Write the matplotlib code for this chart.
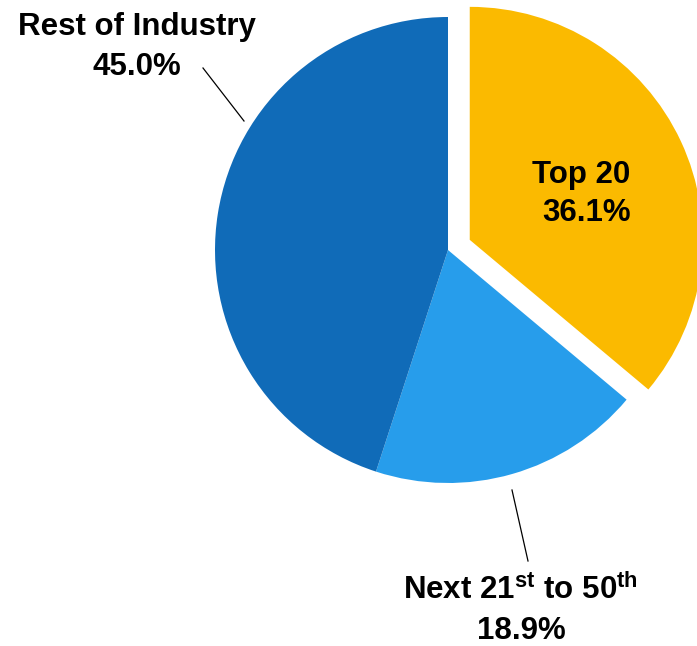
import matplotlib
matplotlib.use("Agg")
import matplotlib.pyplot as plt

plt.rcParams['font.family'] = ['Liberation Sans', 'DejaVu Sans']
plt.rcParams['mathtext.fontset'] = 'custom'
plt.rcParams['mathtext.rm'] = 'Liberation Sans:bold'
plt.rcParams['mathtext.bf'] = 'Liberation Sans:bold'

# Market share split
segments = ['Top 20', 'Next 21st to 50th', 'Rest of Industry']
shares = [36.1, 18.9, 45.0]
colors = ['#FBBA00', '#279DEB', '#106BB8']
explode = [0.103, 0, 0]

W, H = 697, 646
CX, CY, R = 448, 250, 233  # pie centre / radius in pixels


def px(x, y):
    """pixel position -> data coords (pie radius = 1)"""
    return (x - CX) / R, (CY - y) / R


fig = plt.figure(figsize=(W / 100, H / 100), dpi=100)
ax = fig.add_axes([0, 0, 1, 1])
ax.pie(shares, colors=colors, explode=explode, startangle=90,
       counterclock=False, radius=1,
       wedgeprops=dict(linewidth=0))
ax.set_xlim(px(0, 0)[0], px(W, 0)[0])
ax.set_ylim(px(0, H)[1], px(0, 0)[1])
ax.axis('off')

fs = 22.5
kw = dict(fontsize=fs, fontweight='bold', color='black')

# Top 20 label inside the exploded slice
ax.text(*px(630, 183), 'Top 20', ha='right', va='baseline', **kw)
ax.text(*px(631, 221), f'{shares[0]:.1f}%', ha='right', va='baseline', **kw)

# Rest of Industry label with leader
ax.text(*px(137, 35), 'Rest of Industry', ha='center', va='baseline', **kw)
ax.text(*px(137, 75), f'{shares[2]:.1f}%', ha='center', va='baseline', **kw)
ax.plot(*zip(px(203, 68), px(244, 121)), color='black', lw=0.9)

# Next 21st to 50th label with leader
ax.text(*px(520, 599), r'Next 21$^{\mathrm{st}}$ to 50$^{\mathrm{th}}$',
        ha='center', va='baseline', **kw)
ax.text(*px(521, 639), f'{shares[1]:.1f}%', ha='center', va='baseline', **kw)
ax.plot(*zip(px(512, 490), px(528, 561)), color='black', lw=0.9)

fig.savefig('out.png', dpi=100)
